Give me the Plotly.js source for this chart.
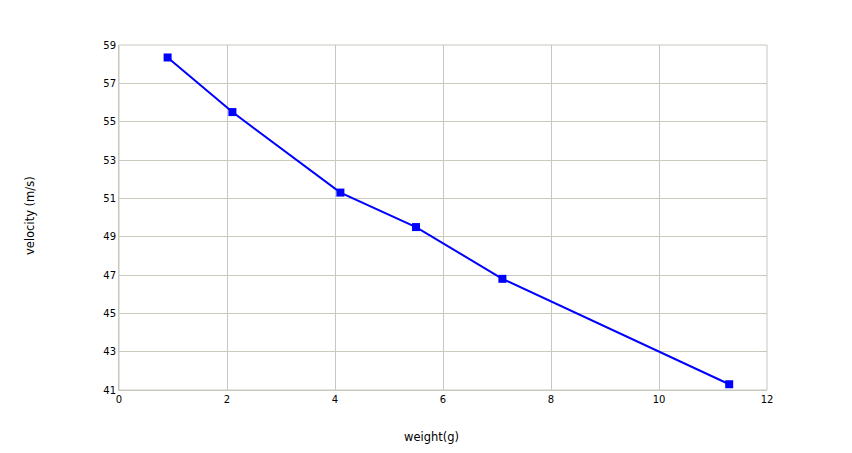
<!DOCTYPE html>
<html>
<head>
<meta charset="utf-8">
<script src="https://cdn.plot.ly/plotly-3.0.1.min.js"></script>
<style>html,body{margin:0;padding:0;background:#fff;}#chart{width:852px;height:453px;}</style>
</head>
<body>
<div id="chart"></div>
<script>
var weight = [0.9, 2.1, 4.1, 5.5, 7.1, 11.3];
var velocity = [58.35, 55.5, 51.3, 49.5, 46.8, 41.3];
var xTicks = [0, 2, 4, 6, 8, 10, 12];
var yTicks = [41, 43, 45, 47, 49, 51, 53, 55, 57, 59];
var xTitle = 'weight(g)';
var yTitle = 'velocity (m/s)';

var trace = {
  x: weight, y: velocity, type: 'scatter', mode: 'lines+markers',
  line: {color: '#0000ff', width: 2},
  marker: {color: '#0000ff', symbol: 'square', size: 8},
  hoverinfo: 'skip'
};
var font = {family: 'Verdana, "DejaVu Sans", sans-serif', size: 10, color: '#000'};
var titleFont = {family: font.family, size: 11.5, color: '#000'};
var layout = {
  width: 852, height: 453,
  margin: {l: 119, r: 85, t: 45, b: 63},
  paper_bgcolor: '#fff', plot_bgcolor: '#fff',
  showlegend: false,
  font: font,
  xaxis: {
    range: [0, 12], tickvals: xTicks, ticktext: xTicks.map(String),
    showgrid: true, gridcolor: '#c8c8be', gridwidth: 1,
    showline: true, linecolor: '#c8c8be', linewidth: 1,
    zeroline: false, ticks: '', ticklen: 0
  },
  yaxis: {
    range: [41, 59], tickvals: yTicks, ticktext: yTicks.map(String),
    showgrid: true, gridcolor: '#c8c8be', gridwidth: 1,
    showline: true, linecolor: '#c8c8be', linewidth: 1,
    zeroline: false, ticks: '', ticklen: 0
  },
  annotations: [
    {text: xTitle, xref: 'paper', yref: 'paper', x: (431 - 119) / 648, y: -(437 - 390) / 345,
     xanchor: 'center', yanchor: 'middle', showarrow: false, font: titleFont},
    {text: yTitle, xref: 'paper', yref: 'paper', x: (30 - 119) / 648, y: (390 - 216) / 345,
     xanchor: 'center', yanchor: 'middle', showarrow: false, textangle: -90, font: titleFont}
  ],
  shapes: [{type: 'rect', xref: 'paper', yref: 'paper', x0: 0, x1: 1, y0: 0, y1: 1, line: {color: '#c8c8be', width: 1}}]
};
Plotly.newPlot('chart', [trace], layout, {staticPlot: true, displayModeBar: false});
</script>
</body>
</html>
